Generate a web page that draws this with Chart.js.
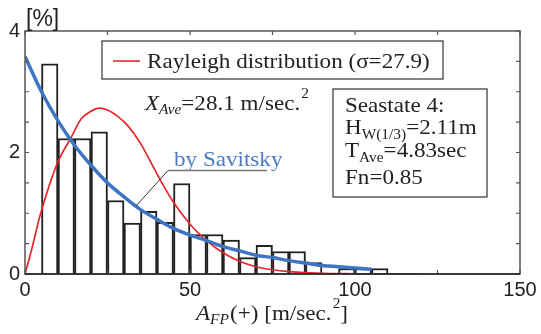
<!DOCTYPE html>
<html>
<head>
<meta charset="utf-8">
<script src="https://cdn.jsdelivr.net/npm/chart.js@4.4.1/dist/chart.umd.min.js"></script>
<style>
html,body{margin:0;padding:0;background:#fff;}
#wrap{width:541px;height:334px;}
</style>
</head>
<body>
<div id="wrap"><canvas id="c" width="541" height="334"></canvas></div>
<script>
// ---- data ----
const binStart = [0,5,10,15,20,25,30,35,40,45,50,55,60,65,70,75,80,85,90,95,100,105,110,115,120];
const binPct   = [0,3.46,2.23,2.23,2.34,1.21,0.84,1.03,0.85,1.49,0.65,0.65,0.56,0.27,0.47,0.37,0.37,0.19,0,0.09,0.09,0.09,0,0,0];
const binWidth = 5;

const rayX = [0,2,4.5,7,10,14,17,20,22.5,25,28,31,35,39,42,45,50,55,60,65,70,75,80,90,100,110,120];
const rayY = [0,0.4,0.95,1.4,1.85,2.25,2.55,2.68,2.73,2.7,2.6,2.45,2.15,1.75,1.45,1.18,0.82,0.55,0.35,0.21,0.12,0.07,0.04,0.01,0.004,0.001,0];

const savX = [0,5,10,15,20,25,30,35,40,45,50,55,60,65,70,75,80,85,90,95,100,105];
const savY = [3.58,3.0,2.52,2.12,1.79,1.5,1.27,1.06,0.9,0.75,0.64,0.55,0.45,0.38,0.31,0.27,0.22,0.18,0.14,0.12,0.1,0.08];

const xTickLabels = [0,50,100,150];
const yTickLabels = [0,2,4];

const legendText = 'Rayleigh distribution (\u03c3=27.9)';
const savText = 'by Savitsky';

// ---- helpers ----
const SERIF = '"Liberation Serif","Times New Roman",serif';
const SANS = '"Liberation Sans",Arial,sans-serif';
const SX = 1.1;

function rich(ctx, x, y, segs, color) {
  ctx.save();
  ctx.translate(x, y);
  ctx.scale(SX, 1);
  ctx.fillStyle = color || '#222';
  ctx.textBaseline = 'alphabetic';
  ctx.textAlign = 'left';
  let cx = 0;
  for (const s of segs) {
    ctx.font = s.f;
    ctx.fillText(s.t, cx, s.dy || 0);
    cx += ctx.measureText(s.t).width + (s.gap || 0);
  }
  ctx.restore();
}

const overlay = {
  id: 'overlay',
  afterDatasetsDraw(chart) {
    const ctx = chart.ctx;
    const a = chart.chartArea;
    const xs = chart.scales.x, ys = chart.scales.y;
    ctx.save();
    // frame
    ctx.strokeStyle = '#555';
    ctx.lineWidth = 1.5;
    ctx.strokeRect(a.left, a.top, a.right - a.left, a.bottom - a.top);
    // inward ticks
    ctx.lineWidth = 1.2;
    ctx.beginPath();
    for (let v = 0; v <= 150; v += 25) {
      const px = xs.getPixelForValue(v);
      ctx.moveTo(px, a.bottom); ctx.lineTo(px, a.bottom - 4);
      ctx.moveTo(px, a.top); ctx.lineTo(px, a.top + 4);
    }
    for (let v = 0; v <= 4; v += 0.5) {
      const py = ys.getPixelForValue(v);
      ctx.moveTo(a.left, py); ctx.lineTo(a.left + 4, py);
      ctx.moveTo(a.right, py); ctx.lineTo(a.right - 4, py);
    }
    ctx.stroke();
    // bottom axis darker
    ctx.strokeStyle = '#222';
    ctx.lineWidth = 1.6;
    ctx.beginPath();
    ctx.moveTo(a.left, a.bottom); ctx.lineTo(a.right, a.bottom);
    ctx.stroke();

    // legend box
    ctx.fillStyle = '#fff';
    ctx.fillRect(102, 41, 341, 38);
    ctx.strokeStyle = '#333';
    ctx.lineWidth = 1.2;
    ctx.strokeRect(102, 41, 341, 38);
    ctx.strokeStyle = '#e8262a';
    ctx.lineWidth = 1.6;
    ctx.beginPath(); ctx.moveTo(113, 61); ctx.lineTo(140, 61); ctx.stroke();
    rich(ctx, 147, 68, [{t: legendText, f: '21px ' + SERIF}]);

    // X_Ave text
    rich(ctx, 145, 110, [
      {t: 'X', f: 'italic 21px ' + SERIF},
      {t: 'Ave', f: 'italic 14px ' + SERIF, dy: 4},
      {t: '=28.1 m/sec.', f: '21px ' + SERIF, gap: 1},
      {t: '2', f: '14px ' + SERIF, dy: -12}
    ]);

    // Seastate box
    ctx.fillStyle = '#fff';
    ctx.fillRect(333, 89, 154, 108);
    ctx.strokeStyle = '#333';
    ctx.lineWidth = 1.2;
    ctx.strokeRect(333, 89, 154, 108);
    rich(ctx, 345, 112, [{t: 'Seastate 4:', f: '21px ' + SERIF}]);
    rich(ctx, 345, 134, [
      {t: 'H', f: '21px ' + SERIF},
      {t: 'W(1/3)', f: '14px ' + SERIF, dy: 5},
      {t: '=2.11m', f: '21px ' + SERIF}
    ]);
    rich(ctx, 345, 157, [
      {t: 'T', f: '21px ' + SERIF},
      {t: 'Ave', f: '14px ' + SERIF, dy: 5},
      {t: '=4.83sec', f: '21px ' + SERIF}
    ]);
    rich(ctx, 345, 184, [{t: 'Fn=0.85', f: '21px ' + SERIF}]);

    // by Savitsky label with leader
    rich(ctx, 174, 166, [{t: savText, f: '21px ' + SERIF}], '#4a7cc7');
    ctx.strokeStyle = '#777';
    ctx.lineWidth = 1.5;
    ctx.beginPath(); ctx.moveTo(168, 170.5); ctx.lineTo(267, 170.5); ctx.stroke();
    ctx.strokeStyle = '#222';
    ctx.lineWidth = 0.9;
    ctx.beginPath(); ctx.moveTo(168, 170.5); ctx.lineTo(136, 206); ctx.stroke();

    // [%]
    ctx.fillStyle = '#222';
    ctx.font = '23px ' + SANS;
    ctx.textBaseline = 'alphabetic';
    ctx.fillText('[%]', 26, 26);

    // x-axis title
    rich(ctx, 196, 320, [
      {t: 'A', f: 'italic 21px ' + SERIF},
      {t: 'FP', f: 'italic 14px ' + SERIF, dy: 4, gap: 1},
      {t: '(+) [m/sec.', f: '21px ' + SERIF, gap: 1},
      {t: '2', f: '14px ' + SERIF, dy: -12},
      {t: ']', f: '21px ' + SERIF}
    ]);
    ctx.restore();
  }
};

const barData = binStart.map((s, i) => ({x: s + binWidth / 2, y: binPct[i]}));
const rayData = rayX.map((x, i) => ({x, y: rayY[i]}));
const savData = savX.map((x, i) => ({x, y: savY[i]}));

new Chart(document.getElementById('c'), {
  type: 'bar',
  data: {
    datasets: [
      {
        type: 'line', data: savData, borderColor: '#3f74c2', borderWidth: 3.5,
        pointRadius: 0, cubicInterpolationMode: 'monotone', order: 1, fill: false
      },
      {
        type: 'line', data: rayData, borderColor: '#e8262a', borderWidth: 1.7,
        pointRadius: 0, cubicInterpolationMode: 'monotone', order: 2, fill: false
      },
      {
        type: 'bar', data: barData, backgroundColor: '#ffffff', borderColor: '#222',
        borderWidth: 2, barPercentage: 1, categoryPercentage: 1, order: 3
      }
    ]
  },
  options: {
    responsive: false,
    animation: false,
    devicePixelRatio: 1,
    layout: {padding: {top: 31, right: 21, left: 0, bottom: 0}},
    plugins: {legend: {display: false}, tooltip: {enabled: false}},
    scales: {
      x: {
        type: 'linear', min: 0, max: 150, offset: false,
        grid: {display: false, drawTicks: false}, border: {display: false},
        ticks: {
          stepSize: 50, padding: 4, color: '#222', maxRotation: 0, autoSkip: false,
          font: {family: SANS, size: 20},
          callback: v => xTickLabels.includes(v) ? String(v) : ''
        },
        afterFit: s => { s.height = 60; }
      },
      y: {
        type: 'linear', min: 0, max: 4,
        grid: {display: false, drawTicks: false}, border: {display: false},
        ticks: {
          stepSize: 2, padding: 5, color: '#222',
          font: {family: SANS, size: 20},
          callback: v => yTickLabels.includes(v) ? String(v) : ''
        },
        afterFit: s => { s.width = 25; }
      }
    }
  },
  plugins: [overlay]
});
</script>
</body>
</html>
